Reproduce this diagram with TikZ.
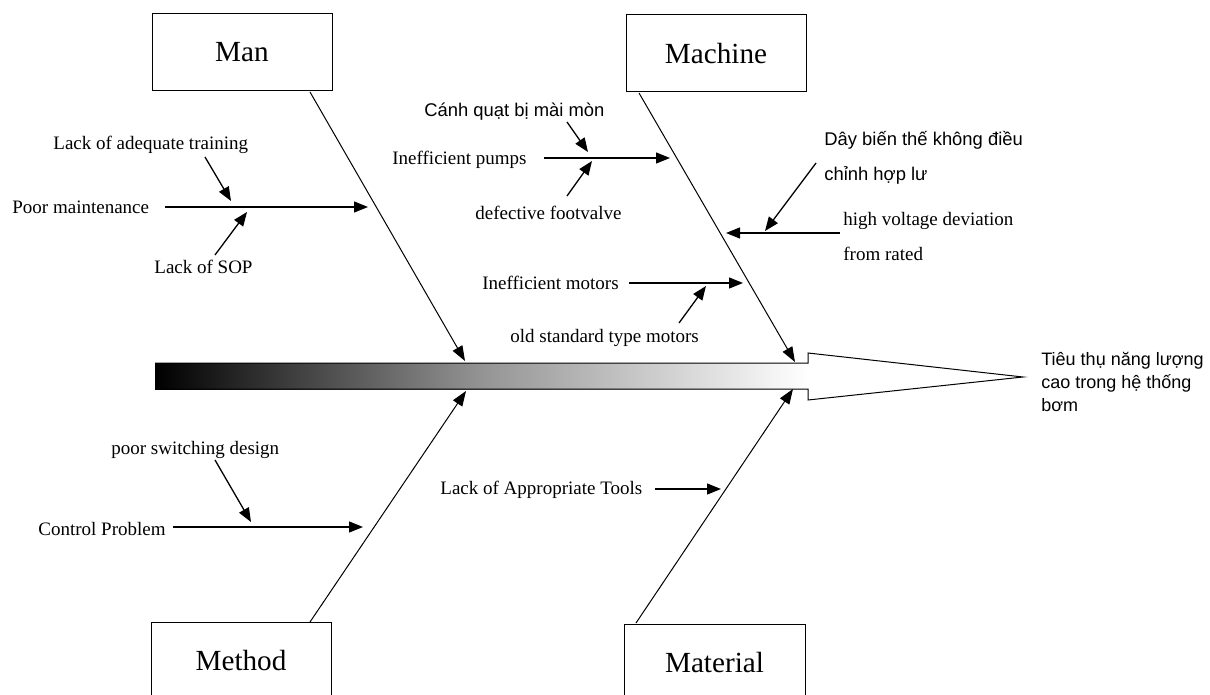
\documentclass[tikz,border=0pt]{standalone}
\usepackage{fontspec}
\setmainfont{Liberation Serif}
\newfontfamily\arialf{Liberation Sans}
\usetikzlibrary{arrows.meta}
\begin{document}
\begin{tikzpicture}[x=0.5pt,y=-0.5pt,
  catbox/.style={draw,line width=0.5pt,minimum width=90pt,minimum height=38.5pt,inner sep=0,font=\fontsize{14.6}{17}\selectfont},
  lbl/.style={anchor=west,inner sep=0,font=\fontsize{9.5}{11}\selectfont},
  lbltwo/.style={anchor=west,inner sep=0,align=left,font=\fontsize{9.5}{17.5}\selectfont},
  vlbl/.style={anchor=west,inner sep=0,font=\arialf\fontsize{9.2}{11}\selectfont},
  vlbltwo/.style={anchor=west,inner sep=0,align=left,font=\arialf\fontsize{9.2}{17.5}\selectfont},
  efflbl/.style={anchor=west,inner sep=0,align=left,font=\arialf\fontsize{9}{11.3}\selectfont},
  bone/.style={line width=0.5pt,-{Triangle[length=7.5pt,width=5.5pt]}},
  twig/.style={line width=0.65pt,-{Triangle[length=7pt,width=5.5pt]}},
]
\clip (0,0) rectangle (1210,695);
\fill[white] (0,0) rectangle (1210,695);

% spine
\shade[left color=black,right color=white,middle color=black!42] (155,363) rectangle (808,389);
\fill[white] (808,353) -- (1023,377) -- (808,400) -- cycle;
\draw[line width=0.5pt] (155,363) -- (808,363) -- (808,353) -- (1023,377) -- (808,400) -- (808,389) -- (155,389);

% category boxes
\node[catbox] (man) at (242,52.5) {Man};
\node[catbox] (machine) at (716,53.5) {Machine};
\node[catbox] (method) at (241,661) {Method};
\node[catbox,minimum width=90.5pt] (material) at (714.5,663) {Material};

% effect
\node[efflbl] (effect) at (1041,382) {Tiêu thụ năng lượng\\cao trong hệ thống\\bơm};

% bones
\coordinate (manA) at (310,92);   \coordinate (manB) at (465,361);
\coordinate (macA) at (639,93);   \coordinate (macB) at (795,362);
\coordinate (metA) at (310,622);  \coordinate (metB) at (466,391);
\coordinate (matA) at (636,623);  \coordinate (matB) at (793,389);
\draw[bone] (manA) -- (manB);
\draw[bone] (macA) -- (macB);
\draw[bone] (metA) -- (metB);
\draw[bone] (matA) -- (matB);

% Man causes
\node[lbl] (pm) at (12,207) {Poor maintenance};
\node[lbl] (lat) at (53,145) {Lack of adequate training};
\node[lbl] (sop) at (154,267) {Lack of SOP};
\coordinate (pmA) at (165,207);  \coordinate (pmB) at (368,207);
\coordinate (latA) at (205,157); \coordinate (latB) at (231,201);
\coordinate (sopA) at (215,255); \coordinate (sopB) at (247,212);
\draw[twig] (pmA) -- (pmB);
\draw[twig] (latA) -- (latB);
\draw[twig] (sopA) -- (sopB);

% Machine causes
\node[lbl] (ip) at (392,160) {Inefficient pumps};
\node[vlbl] (cq) at (424,112) {Cánh quạt bị mài mòn};
\node[lbl] (df) at (475,213) {defective footvalve};
\coordinate (ipA) at (544,158); \coordinate (ipB) at (670,158);
\coordinate (cqA) at (567,122); \coordinate (cqB) at (588,152);
\coordinate (dfA) at (567,196); \coordinate (dfB) at (592,161);
\draw[twig] (ipA) -- (ipB);
\draw[twig] (cqA) -- (cqB);
\draw[twig] (dfA) -- (dfB);

\node[lbltwo] (hv) at (843,236.5) {high voltage deviation\\from rated};
\node[vlbltwo] (dbt) at (824,157.5) {Dây biến thế không điều\\chỉnh hợp lư};
\coordinate (hvA) at (840,233);  \coordinate (hvB) at (726,233);
\coordinate (dbtA) at (816,163); \coordinate (dbtB) at (765,231);
\draw[twig] (hvA) -- (hvB);
\draw[twig] (dbtA) -- (dbtB);

\node[lbl] (im) at (482,283) {Inefficient motors};
\node[lbl] (os) at (510,338) {old standard type motors};
\coordinate (imA) at (629,283); \coordinate (imB) at (743,283);
\coordinate (osA) at (679,323); \coordinate (osB) at (706,286);
\draw[twig] (imA) -- (imB);
\draw[twig] (osA) -- (osB);

% Method causes
\node[lbl] (cp) at (38,529) {Control Problem};
\node[lbl] (psd) at (111,450) {poor switching design};
\coordinate (cpA) at (173,527);  \coordinate (cpB) at (363,527);
\coordinate (psdA) at (215,460); \coordinate (psdB) at (251,522);
\draw[twig] (cpA) -- (cpB);
\draw[twig] (psdA) -- (psdB);

% Material causes
\node[lbl] (lt) at (440,490) {Lack of Appropriate Tools};
\coordinate (ltA) at (655,489); \coordinate (ltB) at (721,489);
\draw[twig] (ltA) -- (ltB);
\end{tikzpicture}
\end{document}
